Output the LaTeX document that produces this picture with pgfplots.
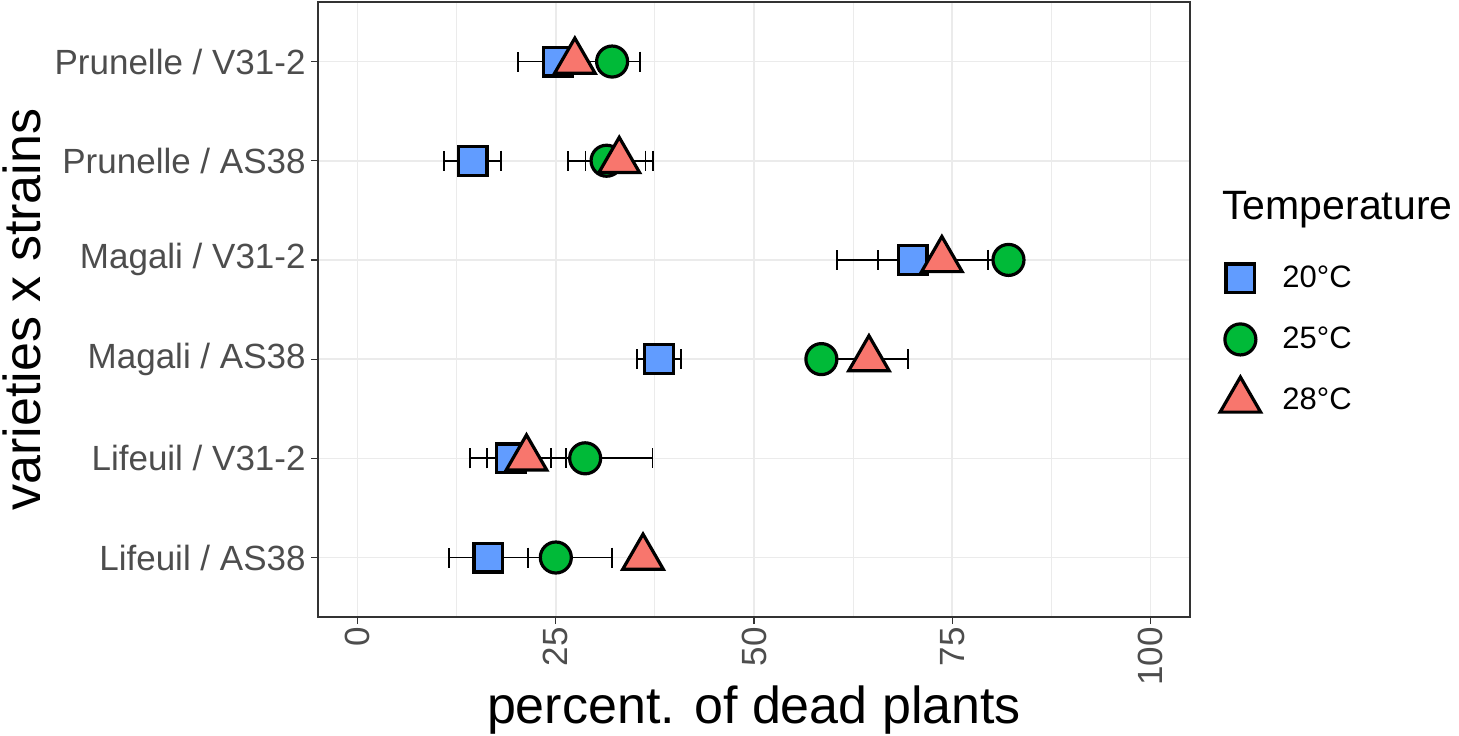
\documentclass[border=0pt]{standalone}
\usepackage{fontspec}
\setmainfont{Liberation Sans}
\usepackage{pgfplots}
\pgfplotsset{compat=1.18}
\usepackage{pgfplotstable}
\definecolor{c20}{HTML}{619CFF}
\definecolor{c25}{HTML}{00BA38}
\definecolor{c28}{HTML}{F8766D}
\definecolor{gridc}{HTML}{EBEBEB}
\definecolor{bordc}{HTML}{333333}
\definecolor{tickc}{HTML}{4D4D4D}

% y: 1 Lifeuil/AS38, 2 Lifeuil/V31-2, 3 Magali/AS38, 4 Magali/V31-2, 5 Prunelle/AS38, 6 Prunelle/V31-2
\pgfplotstableread{
y x e
1 16.5 5.0
2 19.3 5.1
3 38.0 2.8
4 70.0 9.5
5 14.5 3.6
6 25.3 5.1
}\tA
\pgfplotstableread{
y x e
1 25.0 7.1
2 28.7 8.5
3 58.5 1.2
4 82.1 1.2
5 31.4 4.9
6 32.1 3.5
}\tB
\pgfplotstableread{
y x e
1 36.0 0.0
2 21.3 4.95
3 64.5 4.9
4 73.7 8.1
5 33.0 4.25
6 27.4 1.0
}\tC

\begin{document}
\begin{tikzpicture}
\path[use as bounding box] (0,0) rectangle (729.5pt,-367.5pt);
\begin{axis}[
  at={(159pt,-308.5pt)}, anchor=south west,
  scale only axis, width=436pt, height=307.5pt,
  xmin=-5, xmax=105, ymin=0.4, ymax=6.6,
  xtick={0,25,50,75,100}, minor xtick={12.5,37.5,62.5,87.5},
  ytick={1,2,3,4,5,6},
  yticklabels={Lifeuil / AS38, Lifeuil / V31-2, Magali / AS38, Magali / V31-2, Prunelle / AS38, Prunelle / V31-2},
  xmajorgrids, ymajorgrids, xminorgrids,
  major grid style={gridc, line width=0.8pt},
  minor grid style={gridc, line width=0.45pt},
  axis line style={bordc, line width=0.6pt},
  tick align=outside, major tick length=3.5pt, minor tick length=0pt,
  tick style={bordc, line width=0.6pt},
  xtick pos=bottom, ytick pos=left,
  tick label style={font=\fontsize{17.5}{17.5}\selectfont, text=tickc},
  xticklabel style={rotate=90, anchor=east, inner sep=1.5pt},
  yticklabel style={inner sep=2.5pt},
  /pgf/number format/assume math mode=true,
  legend style={draw=none, fill=none, inner sep=0pt, row sep=0pt, column sep=0pt,
    at={(rel axis cs:1.0298,0.6008)}, anchor=north west,
    font=\fontsize{15.5}{15.5}\selectfont,
    nodes={inner xsep=9pt, inner ysep=0pt}},
  legend cell align=left,
  legend image code/.code={%
    \path[draw=none, fill=none] (-12pt,-15.25pt) rectangle (12pt,15.25pt);
    \draw[#1] plot coordinates {(0pt,0pt)};},
]
% error bars
\addplot[forget plot, draw=none, mark=none,
  error bars/.cd, x dir=both, x explicit, error mark=|,
  error bar style={black, line width=0.85pt},
  error mark options={black, line width=0.85pt, mark size=5pt}]
  table[x=x, y=y, x error=e] {\tA};
\addplot[forget plot, draw=none, mark=none,
  error bars/.cd, x dir=both, x explicit, error mark=|,
  error bar style={black, line width=0.85pt},
  error mark options={black, line width=0.85pt, mark size=5pt}]
  table[x=x, y=y, x error=e] {\tB};
\addplot[forget plot, draw=none, mark=none,
  error bars/.cd, x dir=both, x explicit, error mark=|,
  error bar style={black, line width=0.85pt},
  error mark options={black, line width=0.85pt, mark size=5pt}]
  table[x=x, y=y, x error=e] {\tC};
% points
\addplot[only marks, mark=square*, mark size=7.2pt,
  mark options={fill=c20, draw=black, line width=1.6pt}]
  table[x=x, y=y] {\tA};
\addplot[only marks, mark=*, mark size=7.75pt,
  mark options={fill=c25, draw=black, line width=1.6pt}]
  table[x=x, y=y] {\tB};
\addplot[only marks, mark=triangle*, mark size=11.7pt,
  mark options={fill=c28, draw=black, line width=1.6pt}]
  table[x=x, y=y] {\tC};
\legend{20°C, 25°C, 28°C}
\end{axis}
\node[anchor=base west, inner sep=0pt, font=\fontsize{20.5}{20.5}\selectfont] at (611pt,-109.5pt) {Temperature};
\node[anchor=base, inner sep=0pt, font=\fontsize{26}{26}\selectfont] at (377pt,-361.5pt) {percent. of dead plants};
\node[rotate=90, anchor=base, inner sep=0pt, font=\fontsize{26}{26}\selectfont] at (20pt,-154.75pt) {varieties x strains};
\end{tikzpicture}
\end{document}
